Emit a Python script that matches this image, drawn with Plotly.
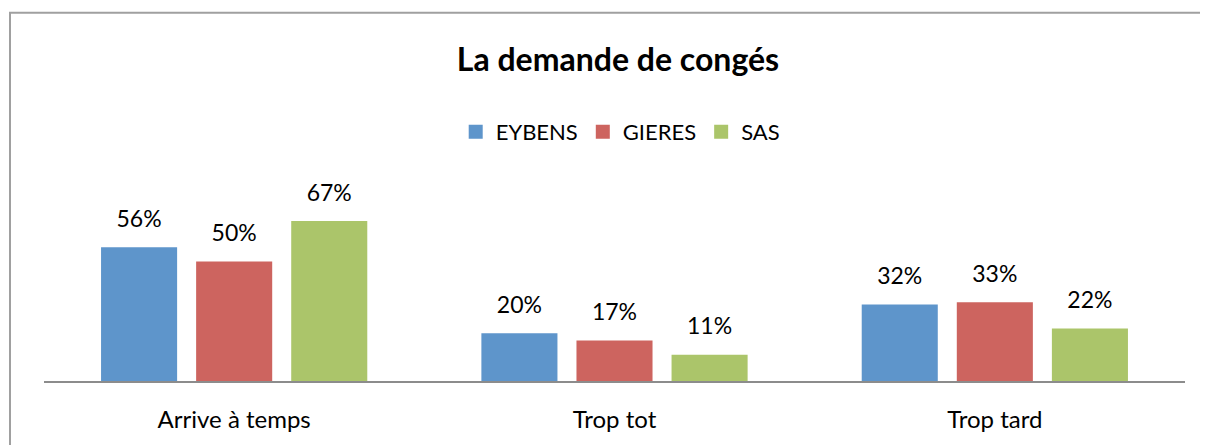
import plotly.graph_objects as go

categories = ["Arrive à temps", "Trop tot", "Trop tard"]
series_names = ["EYBENS", "GIERES", "SAS"]
eybens = [56, 20, 32]
gieres = [50, 17, 33]
sas = [67, 11, 22]
colors = ["#5E95CB", "#CD645F", "#ABC56A"]

FONT = "Lato"
fig = go.Figure()
for name, vals, col in zip(series_names, [eybens, gieres, sas], colors):
    fig.add_trace(go.Bar(
        x=categories, y=vals, name=name, marker=dict(color=col, line=dict(width=0)),
        offsetgroup=name, alignmentgroup="g", hoverinfo="skip", showlegend=False,
    ))
for name, vals in zip(series_names, [eybens, gieres, sas]):
    fig.add_trace(go.Scatter(
        x=categories, y=vals, mode="markers+text", text=[f"{v}%" for v in vals],
        textposition="top center", textfont=dict(family=FONT, size=23, color="#000"),
        marker=dict(size=22, opacity=0), offsetgroup=name, alignmentgroup="g",
        showlegend=False, hoverinfo="skip", cliponaxis=False,
    ))
# legend entries with larger square swatches
for name, col in zip(series_names, colors):
    fig.add_trace(go.Scatter(
        x=[None], y=[None], mode="markers", name=name,
        marker=dict(symbol="square", size=14, color=col),
        offsetgroup=name, alignmentgroup="g", hoverinfo="skip",
    ))

# page body has an 8px margin; layout below compensates for it
W, H = 1200, 437
fig.update_layout(
    width=W, height=H,
    margin=dict(l=36, r=23, t=182, b=61),
    paper_bgcolor="white", plot_bgcolor="white",
    barmode="group", bargap=0.25, bargroupgap=0.2,
    scattermode="group", scattergap=0.25,
    font=dict(family=FONT, size=20, color="#000"),
    title=dict(text="<b>La demande de congés</b>", x=(618 - 8) / W, xanchor="center",
               y=1 - (60 - 8) / H, yanchor="middle", yref="container",
               font=dict(family=FONT, size=32, color="#000")),
    legend=dict(orientation="h", x=0.505, xanchor="center", y=1.304, yanchor="middle",
                font=dict(family=FONT, size=22), itemwidth=30, traceorder="normal",
                itemsizing="trace"),
    xaxis=dict(showline=True, linecolor="#8c8c8c", linewidth=2, ticks="",
               showgrid=False, ticklabelstandoff=16,
               tickfont=dict(family=FONT, size=24, color="#000")),
    yaxis=dict(range=[0, 80], visible=False, showgrid=False),
    showlegend=True,
)
fig.add_shape(type="rect", xref="paper", yref="paper",
              x0=(10 - 44) / 1141, x1=(1212 - 44) / 1141,
              y0=(384 - 450) / 194, y1=1 + (190 - 10) / 194,
              line=dict(color="#a0a0a0", width=2), fillcolor="rgba(0,0,0,0)", layer="below")
fig.write_html("out.html")
